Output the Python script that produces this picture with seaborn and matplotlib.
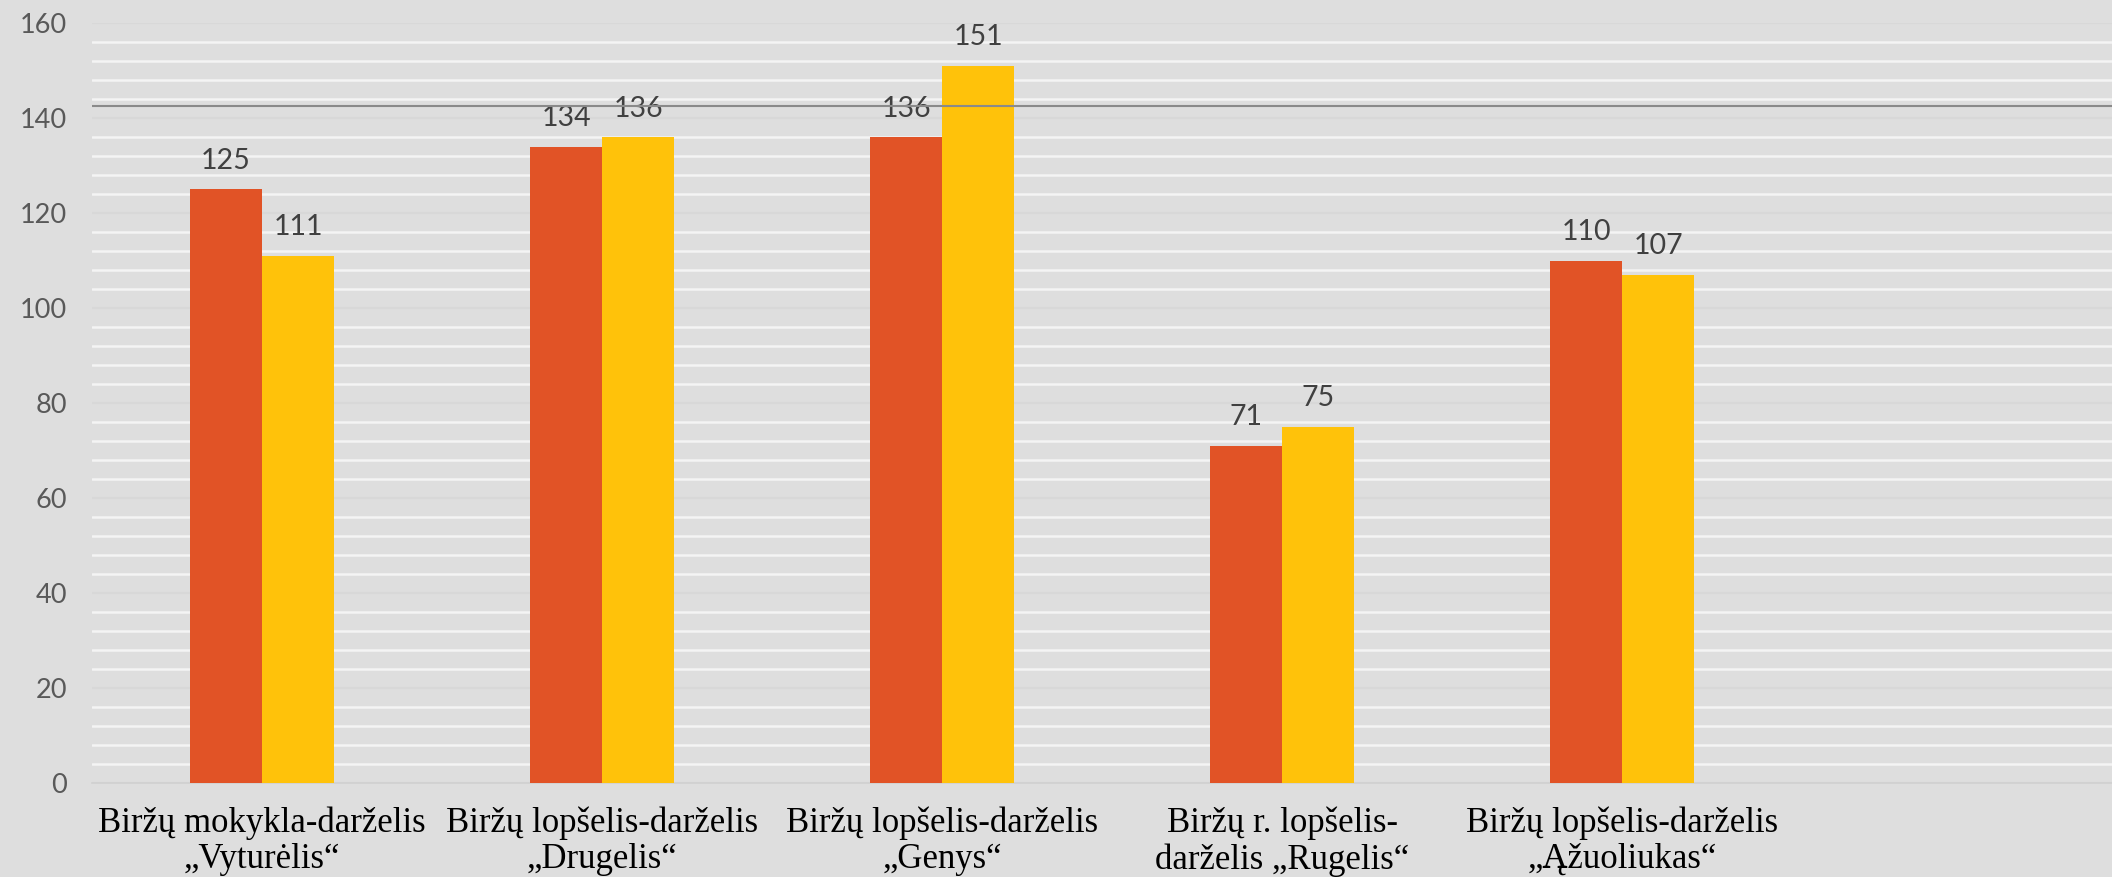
import numpy as np
import pandas as pd
import seaborn as sns
import matplotlib
matplotlib.use("Agg")
import matplotlib.pyplot as plt
from matplotlib.ticker import MultipleLocator

# duomenys
darzeliai = ["Biržų mokykla-darželis\n„Vyturėlis“",
             "Biržų lopšelis-darželis\n„Drugelis“",
             "Biržų lopšelis-darželis\n„Genys“",
             "Biržų r. lopšelis-\ndarželis „Rugelis“",
             "Biržų lopšelis-darželis\n„Ąžuoliukas“"]
serija_1 = [125, 134, 136, 71, 110]
serija_2 = [111, 136, 151, 75, 107]
linija = 142.5

df = pd.DataFrame({
    "Darzelis": darzeliai * 2,
    "Vaiku": serija_1 + serija_2,
    "Serija": ["1"] * len(darzeliai) + ["2"] * len(darzeliai),
})

sns.set_style("white")
plt.rcParams["font.family"] = ["Lato", "DejaVu Sans"]

fig = plt.figure(figsize=(21.12, 8.77), dpi=100)
fig.patch.set_facecolor("#dedede")
ax = fig.add_axes([92 / 2112, 1 - 783 / 877, 1 - 92 / 2112, (783 - 23) / 877])
ax.set_facecolor("#dedede")

ax = sns.barplot(data=df, x="Darzelis", y="Vaiku", hue="Serija",
                 palette=["#e15326", "#ffc20a"], width=0.424, gap=0,
                 saturation=1, legend=False, ax=ax, zorder=3,
                 linewidth=0, edgecolor="none")

# reiksmiu uzrasai
for cont in ax.containers:
    ax.bar_label(cont, fmt="%d", padding=11, fontsize=20.5, color="#404040")

ax.set_ylim(0, 160)
ax.set_xlim(-0.5, 5.44)
ax.yaxis.set_major_locator(MultipleLocator(20))
ax.yaxis.set_minor_locator(MultipleLocator(4))
ax.grid(axis="y", which="minor", color="#f4f4f4", linewidth=1.8, zorder=0)
ax.grid(axis="y", which="major", color="#d8d8d8", linewidth=1.6, zorder=0)
ax.axhline(linija, color="#8a8a8a", linewidth=1.5, zorder=4)

ax.set_xlabel("")
ax.set_ylabel("")
ax.tick_params(axis="y", which="both", length=0, labelsize=19.5,
               labelcolor="#595959", pad=18)
ax.tick_params(axis="x", which="major", length=0, pad=17)
ax.set_xticks(np.arange(-0.5, 5.5, 1), minor=True)
ax.tick_params(axis="x", which="minor", length=8, color="#d0d0d0", width=1.2)
for lab in ax.get_xticklabels():
    lab.set_family(["Liberation Serif", "DejaVu Serif"])
    lab.set_fontsize(25)
    lab.set_color("black")
    lab.set_linespacing(1.12)

for s in ["top", "right", "left"]:
    ax.spines[s].set_visible(False)
ax.spines["bottom"].set_color("#d0d0d0")
ax.spines["bottom"].set_linewidth(1.2)

fig.savefig("out.png", dpi=100, facecolor=fig.get_facecolor())
